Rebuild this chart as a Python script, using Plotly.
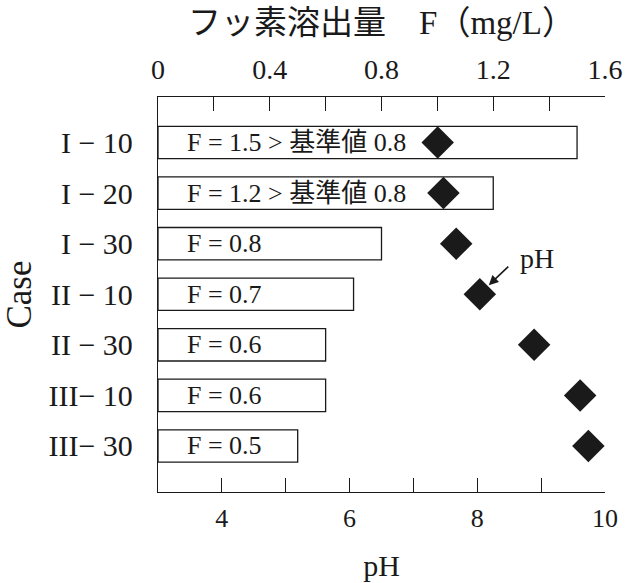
import plotly.graph_objects as go

cases = ["I − 10", "I − 20", "I − 30", "II − 10", "II − 30", "III− 10", "III− 30"]
fluorine = [1.5, 1.2, 0.8, 0.7, 0.6, 0.6, 0.5]
bar_labels = ["F = 1.5 > 基準値 0.8", "F = 1.2 > 基準値 0.8", "F = 0.8",
              "F = 0.7", "F = 0.6", "F = 0.6", "F = 0.5"]
ph = [7.38, 7.47, 7.67, 8.04, 8.89, 9.61, 9.74]

f_ticks = [0, 0.2, 0.4, 0.6, 0.8, 1.0, 1.2, 1.4, 1.6]
f_ticktext = ["0", "", "0.4", "", "0.8", "", "1.2", "", "1.6"]
ph_ticks = [4, 5, 6, 7, 8, 9, 10]
ph_ticktext = ["4", "", "6", "", "8", "", "10"]

SERIF = "Liberation Serif, Noto Sans CJK JP, serif"
INK = "#1a1a1a"

W, H = 627, 583
L, R, T, B = 158, 22, 97, 91

fig = go.Figure()
# bars on the top (F) axis
fig.add_trace(go.Bar(
    x=fluorine, y=cases, orientation="h", xaxis="x", yaxis="y",
    width=0.64, marker=dict(color="white", line=dict(color=INK, width=1.3)),
    showlegend=False, hoverinfo="skip",
))
# pH diamonds on the bottom axis (drawn on top of bars)
fig.add_trace(go.Scatter(
    x=ph, y=cases, mode="markers", xaxis="x2", yaxis="y",
    marker=dict(symbol="diamond", size=25, color=INK, line=dict(width=0)),
    showlegend=False, cliponaxis=False,
))

annotations = []
for c, t in zip(cases, bar_labels):
    annotations.append(dict(x=0.097, y=c, xref="x", yref="y", text=t,
                            showarrow=False, xanchor="left", yanchor="middle",
                            font=dict(family=SERIF, size=26, color=INK)))
# pH pointer arrow
annotations.append(dict(x=8.18, y=2.82, xref="x2", yref="y", text="",
                        showarrow=True, ax=21, ay=-20,
                        arrowhead=2, arrowsize=1.2, arrowwidth=1.6, arrowcolor=INK))
annotations.append(dict(x=8.93, y=2.3, xref="x2", yref="y", text="pH",
                        showarrow=False, xanchor="center", yanchor="middle",
                        font=dict(family=SERIF, size=28, color=INK)))

fig.update_layout(
    width=W, height=H,
    margin=dict(l=L, r=R, t=T, b=B, pad=0),
    paper_bgcolor="white", plot_bgcolor="white",
    font=dict(family=SERIF, color=INK),
    xaxis=dict(
        range=[0, 1.6], side="top", automargin=False,
        tickvals=f_ticks, ticktext=f_ticktext,
        ticks="inside", ticklen=14, tickwidth=1.3, tickcolor=INK,
        showline=True, linecolor=INK, linewidth=1.3,
        showgrid=False, zeroline=False,
        tickfont=dict(family=SERIF, size=28, color=INK),
        ticklabelstandoff=6,
        title=dict(text="フッ素溶出量　F（mg/L）",
                   font=dict(family=SERIF, size=33, color=INK), standoff=9),
    ),
    xaxis2=dict(
        range=[3, 10], overlaying="x", side="bottom", automargin=False,
        tickvals=ph_ticks, ticktext=ph_ticktext,
        ticks="inside", ticklen=14, tickwidth=1.3, tickcolor=INK,
        showline=True, linecolor=INK, linewidth=1.3,
        showgrid=False, zeroline=False,
        tickfont=dict(family=SERIF, size=26, color=INK),
        ticklabelstandoff=3,
        title=dict(text="pH", font=dict(family=SERIF, size=30, color=INK), standoff=22),
    ),
    yaxis=dict(
        type="category", categoryorder="array", categoryarray=cases,
        range=[6.91, -0.9], automargin=False,
        showline=True, linecolor=INK, linewidth=1.3,
        showgrid=False, zeroline=False, ticks="",
        tickfont=dict(family=SERIF, size=30, color=INK),
        ticklabelstandoff=18,
        title=dict(text="Case", font=dict(family=SERIF, size=35, color=INK), standoff=6),
    ),
    annotations=annotations,
)

fig.write_html("out.html")
